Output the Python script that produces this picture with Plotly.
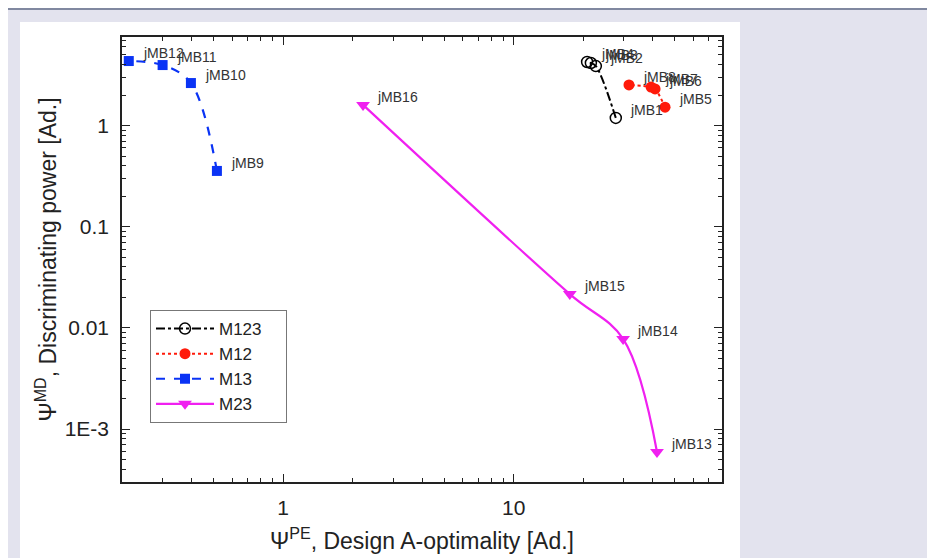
import numpy as np
import plotly.graph_objects as go

# ---------------- data ----------------
m123_labels = ["jMB1", "jMB2", "jMB3", "jMB4"]
m123_x = [27.7, 22.7, 21.6, 20.8]
m123_y = [1.19, 3.87, 4.15, 4.25]

m12_labels = ["jMB5", "jMB6", "jMB7", "jMB8"]
m12_x = [45.3, 41.0, 39.4, 31.6]
m12_y = [1.52, 2.30, 2.40, 2.52]

m13_labels = ["jMB9", "jMB10", "jMB11", "jMB12"]
m13_x = [0.516, 0.398, 0.300, 0.214]
m13_y = [0.356, 2.63, 3.96, 4.34]

m23_labels = ["jMB13", "jMB14", "jMB15", "jMB16"]
m23_x = [41.8, 29.8, 17.5, 2.22]
m23_y = [5.94e-4, 7.78e-3, 0.0216, 1.60]

x_tick_vals = [1, 10]
x_tick_text = ["1", "10"]
y_tick_vals = [1e-3, 1e-2, 0.1, 1]
y_tick_text = ["1E-3", "0.01", "0.1", "1"]

x_title = "Ψ<sup>PE</sup>, Design A-optimality [Ad.]"
y_title = "Ψ<sup>MD</sup>, Discriminating power [Ad.]"

FONT = "Arial, Liberation Sans, sans-serif"

fig = go.Figure()

series = [
    ("M123", m123_x, m123_y, m123_labels,
     dict(color="black", dash="dashdot", width=2),
     dict(symbol="circle-open", size=11, color="black", line=dict(width=1.5))),
    ("M12", m12_x, m12_y, m12_labels,
     dict(color="#ff1a0a", dash="dot", width=2),
     dict(symbol="circle", size=11, color="#ff1a0a")),
    ("M13", m13_x, m13_y, m13_labels,
     dict(color="#0a33f5", dash="dash", width=2.2),
     dict(symbol="square", size=10, color="#0a33f5")),
    ("M23", m23_x, m23_y, m23_labels,
     dict(color="#f020f0", dash="solid", width=2.2),
     dict(symbol="triangle-down", size=12, color="#f020f0")),
]

annotations = []
for name, xs, ys, labs, ln, mk in series:
    fig.add_trace(go.Scatter(
        x=xs, y=ys, name=name + "\u00a0" * 4, mode="lines+markers",
        line=dict(shape="spline", smoothing=1.0, **ln), marker=mk,
    ))
    for xv, yv, lab in zip(xs, ys, labs):
        annotations.append(dict(
            x=np.log10(xv), y=np.log10(yv), xref="x", yref="y",
            text=lab, showarrow=False, xanchor="left", yanchor="middle",
            xshift=12, yshift=8, font=dict(family=FONT, size=14, color="#333"),
        ))

# figure geometry (figure pixels; page body adds an 8 px offset)
W, H = 935, 558
L, R, T, B = 114, 714, 29, 474
def px(x):
    return (x - L) / (R - L)
def py(y):
    return (B - y) / (B - T)

shapes = [
    dict(type="rect", xref="paper", yref="paper", layer="below",
         x0=px(12), x1=px(732), y0=py(H), y1=py(14),
         fillcolor="white", line=dict(width=0)),
    dict(type="line", xref="paper", yref="paper", layer="below",
         x0=px(0), x1=px(W), y0=py(1), y1=py(1),
         line=dict(color="#8088a0", width=2)),
]

x_minor = [v * 10 ** e for e in (-1, 0, 1) for v in range(2, 10)
           if 0.25 <= v * 10 ** e <= 80]
y_minor = [v * 10 ** e for e in (-4, -3, -2, -1, 0) for v in range(2, 10)
           if 3e-4 <= v * 10 ** e <= 7.5]

axis_common = dict(
    type="log", showgrid=False, zeroline=False,
    showline=True, linecolor="#222", linewidth=1.5, mirror="allticks",
    ticks="inside", ticklen=8, tickwidth=1.2, tickcolor="#222",
    tickfont=dict(family=FONT, size=21, color="#222"),
)

fig.update_layout(
    width=W, height=H,
    margin=dict(l=L, r=W - R, t=T, b=H - B, autoexpand=False),
    paper_bgcolor="#e3e3ee", plot_bgcolor="white",
    shapes=shapes, annotations=annotations,
    showlegend=True,
    legend=dict(
        x=px(142), y=py(302), xanchor="left", yanchor="top",
        bgcolor="white", bordercolor="#777", borderwidth=1,
        font=dict(family=FONT, size=17, color="#222"),
        itemwidth=58, tracegroupgap=0,
    ),
    xaxis=dict(
        range=[np.log10(0.2), np.log10(80)],
        tickvals=x_tick_vals, ticktext=x_tick_text,
        minor=dict(tickvals=x_minor, ticks="inside", ticklen=4,
                   tickcolor="#222", tickwidth=1, showgrid=False),
        title=dict(text=x_title, standoff=15,
                   font=dict(family=FONT, size=23, color="#222")),
        ticklabelstandoff=6,
        **axis_common,
    ),
    yaxis=dict(
        range=[np.log10(3e-4), np.log10(7.5)],
        tickvals=y_tick_vals, ticktext=y_tick_text,
        minor=dict(tickvals=y_minor, ticks="inside", ticklen=4,
                   tickcolor="#222", tickwidth=1, showgrid=False),
        title=dict(text=y_title, standoff=2,
                   font=dict(family=FONT, size=23, color="#222")),
        ticklabelstandoff=7,
        **axis_common,
    ),
)

fig.write_html("out.html")
